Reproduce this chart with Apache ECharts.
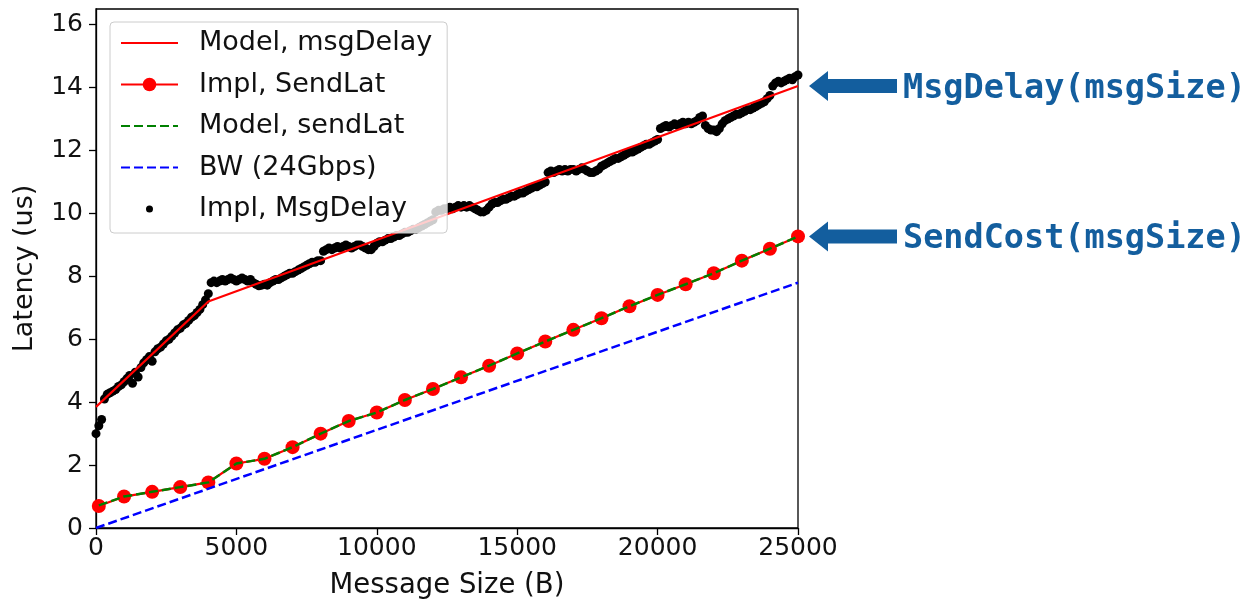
<!DOCTYPE html>
<html>
<head>
<meta charset="utf-8">
<title>Latency vs message size</title>
<script src="https://cdn.jsdelivr.net/npm/echarts@6/dist/echarts.min.js"></script>
<style>
html, body { margin: 0; padding: 0; background: #fff; }
#chart { width: 1251px; height: 605px; }
</style>
</head>
<body>
<div id="chart"></div>
<script>
// model of message delay: piecewise linear
var modelSizes = [0, 4000, 25000];
var modelDelay = [3.85, 7.2, 14.05];

// send latency, measured and modelled, one point per 1000 B
var sendSizes = [100, 1000, 2000, 3000, 4000, 5000, 6000, 7000, 8000, 9000, 10000, 11000, 12000,
  13000, 14000, 15000, 16000, 17000, 18000, 19000, 20000, 21000, 22000, 23000, 24000, 25000];
var implSendLat = [0.7, 1.0, 1.15, 1.3, 1.45, 2.05, 2.2, 2.57, 3.0, 3.4, 3.67, 4.07, 4.42,
  4.79, 5.16, 5.55, 5.93, 6.3, 6.67, 7.05, 7.41, 7.75, 8.1, 8.5, 8.88, 9.27];
var modelSendLat = [0.72, 1.0, 1.15, 1.3, 1.45, 2.05, 2.2, 2.57, 3.0, 3.4, 3.67, 4.07, 4.42,
  4.79, 5.16, 5.55, 5.93, 6.3, 6.67, 7.05, 7.41, 7.75, 8.1, 8.5, 8.88, 9.27];

// bandwidth bound
var bwSizes = [0, 25000];
var bwLat = [0, 7.8];

// measured message delay, one sample every 100 B from 0 to 25000
var delayStep = 100;
var implMsgDelay = [
  3.0, 3.25, 3.45, 4.1, 4.25, 4.3, 4.35, 4.4, 4.5, 4.55,
  4.65, 4.75, 4.85, 4.6, 4.95, 4.8, 5.1, 5.25, 5.35, 5.45,
  5.3, 5.6, 5.7, 5.75, 5.85, 5.95, 6.0, 6.1, 6.2, 6.3,
  6.35, 6.45, 6.5, 6.6, 6.7, 6.75, 6.85, 6.95, 7.1, 7.25,
  7.45, 7.8, 7.85, 7.8, 7.85, 7.9, 7.85, 7.9, 7.95, 7.9,
  7.85, 7.9, 7.95, 7.9, 7.85, 7.9, 7.8, 7.75, 7.7, 7.72,
  7.75, 7.72, 7.8, 7.85, 7.9, 7.9, 7.95, 8.0, 8.05, 8.1,
  8.1, 8.15, 8.2, 8.25, 8.3, 8.35, 8.4, 8.45, 8.45, 8.5,
  8.5, 8.8, 8.85, 8.9, 8.85, 8.9, 8.95, 8.9, 8.95, 9.0,
  8.95, 8.9, 8.95, 9.0, 9.0, 8.95, 8.9, 8.85, 8.85, 8.95,
  9.05, 9.1, 9.1, 9.15, 9.2, 9.2, 9.25, 9.3, 9.3, 9.35,
  9.4, 9.4, 9.45, 9.5, 9.5, 9.55, 9.6, 9.65, 9.7, 9.75,
  9.8, 10.05, 10.1, 10.1, 10.15, 10.15, 10.2, 10.15, 10.2, 10.25,
  10.2, 10.25, 10.2, 10.25, 10.2, 10.15, 10.1, 10.05, 10.05, 10.1,
  10.2, 10.3, 10.35, 10.35, 10.4, 10.45, 10.45, 10.5, 10.55, 10.55,
  10.6, 10.65, 10.65, 10.7, 10.75, 10.8, 10.85, 10.85, 10.9, 10.95,
  11.0, 11.3, 11.35, 11.3, 11.35, 11.4, 11.35, 11.4, 11.35, 11.4,
  11.4, 11.35, 11.4, 11.45, 11.4, 11.35, 11.3, 11.3, 11.35, 11.4,
  11.5, 11.55, 11.6, 11.65, 11.7, 11.75, 11.75, 11.8, 11.85, 11.9,
  11.95, 11.95, 12.0, 12.05, 12.1, 12.15, 12.2, 12.2, 12.25, 12.3,
  12.35, 12.7, 12.75, 12.8, 12.75, 12.8, 12.85, 12.8, 12.85, 12.9,
  12.85, 12.9, 12.85, 12.9, 12.95, 13.05, 13.1, 12.8, 12.7, 12.65,
  12.65, 12.6, 12.7, 12.85, 12.95, 13.0, 13.05, 13.1, 13.15, 13.15,
  13.2, 13.25, 13.3, 13.3, 13.35, 13.4, 13.45, 13.5, 13.55, 13.65,
  13.75, 14.05, 14.15, 14.2, 14.15, 14.2, 14.25, 14.3, 14.25, 14.35,
  14.4
];

var yTicks = [0, 2, 4, 6, 8, 10, 12, 14, 16];
var noteDelay = 'MsgDelay(msgSize)';
var noteSend = 'SendCost(msgSize)';

var FONT = 'DejaVu Sans';
var NOTE_BLUE = '#135e9e';
var xMax = 25000;

// small dot for the scatter legend entry; the two specks widen the box so the dot stays small
var smallDot = 'path://M0,0L0.01,0M34,34L34.01,34M10,17A7,7,0,1,0,24,17A7,7,0,1,0,10,17Z';

function pairs(xs, ys) {
  return xs.map(function (x, i) { return [x, ys[i]]; });
}

var delayPoints = implMsgDelay.map(function (v, i) { return [i * delayStep, v]; });

var chart = echarts.init(document.getElementById('chart'));

chart.setOption({
  animation: false,
  backgroundColor: '#fff',
  grid: {
    left: 96, right: 453, top: 9, bottom: 73,
    show: true, borderColor: '#000', borderWidth: 1.3, backgroundColor: 'transparent'
  },
  legend: {
    data: [
      { name: 'Model, msgDelay', itemStyle: { opacity: 0 } },
      { name: 'Impl, SendLat' },
      { name: 'Model, sendLat', itemStyle: { opacity: 0 } },
      { name: 'BW (24Gbps)', itemStyle: { opacity: 0 } },
      { name: 'Impl, MsgDelay', icon: smallDot }
    ],
    orient: 'vertical',
    left: 110, top: 22,
    itemWidth: 57, itemHeight: 17, itemGap: 11.5,
    padding: [6, 15, 9, 10],
    backgroundColor: 'rgba(255,255,255,0.8)',
    borderColor: '#cccccc', borderWidth: 1, borderRadius: 4,
    selectedMode: false,
    textStyle: { fontFamily: FONT, fontSize: 27, color: '#111', lineHeight: 30, padding: [0, 0, 0, 16] }
  },
  xAxis: {
    type: 'value',
    min: 0, max: xMax, interval: 5000,
    name: 'Message Size (B)',
    nameLocation: 'middle', nameGap: 44,
    nameTextStyle: { fontFamily: FONT, fontSize: 27.5, color: '#111' },
    axisLine: { show: true, lineStyle: { color: '#000', width: 1.3 } },
    axisTick: { show: true, inside: false, length: 7, lineStyle: { color: '#000', width: 1.3 } },
    axisLabel: {
      fontFamily: FONT, fontSize: 25, color: '#111', margin: 8,
      formatter: function (v) { return String(v); }
    },
    splitLine: { show: false }
  },
  yAxis: {
    type: 'value',
    min: 0, max: 16.5,
    name: 'Latency (us)',
    nameLocation: 'middle', nameGap: 58,
    nameTextStyle: { fontFamily: FONT, fontSize: 27, color: '#111' },
    axisLine: { show: true, lineStyle: { color: '#000', width: 1.3 } },
    axisTick: { show: true, inside: false, length: 7, customValues: yTicks, lineStyle: { color: '#000', width: 1.3 } },
    axisLabel: { fontFamily: FONT, fontSize: 25, color: '#111', margin: 13, customValues: yTicks },
    splitLine: { show: false }
  },
  series: [{
    name: 'Impl, MsgDelay',
    type: 'scatter',
    z: 1,
    symbol: 'circle',
    symbolSize: 9,
    itemStyle: { color: '#000', opacity: 1 },
    data: delayPoints
  }, {
    name: 'Model, msgDelay',
    type: 'line',
    z: 2,
    symbol: 'none',
    lineStyle: { color: '#ff0000', width: 2.2 },
    itemStyle: { color: '#ff0000' },
    data: pairs(modelSizes, modelDelay)
  }, {
    name: 'Impl, SendLat',
    type: 'line',
    z: 2,
    symbol: 'circle',
    symbolSize: 14,
    lineStyle: { color: '#ff0000', width: 2.2 },
    itemStyle: { color: '#ff0000' },
    data: pairs(sendSizes, implSendLat)
  }, {
    name: 'Model, sendLat',
    type: 'line',
    z: 3,
    symbol: 'none',
    lineStyle: { color: '#008000', width: 2.5, type: [9, 4] },
    itemStyle: { color: '#008000' },
    data: pairs(sendSizes, modelSendLat)
  }, {
    name: 'BW (24Gbps)',
    type: 'line',
    z: 3,
    symbol: 'none',
    lineStyle: { color: '#0000ff', width: 2.5, type: [9, 4] },
    itemStyle: { color: '#0000ff' },
    data: pairs(bwSizes, bwLat)
  }]
});

// arrows pointing at the right-hand end of each curve
function arrow(tipX, y) {
  return {
    type: 'polygon',
    shape: { points: [[tipX, y], [tipX + 19, y - 15], [tipX + 19, y - 7], [tipX + 88, y - 7],
      [tipX + 88, y + 7], [tipX + 19, y + 7], [tipX + 19, y + 15]] },
    style: { fill: NOTE_BLUE }
  };
}
function note(x, y, text) {
  return {
    type: 'text',
    x: x, y: y + 3,
    style: { text: text, fill: NOTE_BLUE, font: 'bold 33.5px "DejaVu Sans Mono"', textVerticalAlign: 'middle' }
  };
}

var endDelay = chart.convertToPixel({ gridIndex: 0 }, [xMax, modelDelay[modelDelay.length - 1]]);
var endSend = chart.convertToPixel({ gridIndex: 0 }, [xMax, implSendLat[implSendLat.length - 1]]);
var tipX = endDelay[0] + 11;

chart.setOption({
  graphic: [
    arrow(tipX, endDelay[1]),
    note(tipX + 94, endDelay[1], noteDelay),
    arrow(tipX, endSend[1]),
    note(tipX + 94, endSend[1], noteSend)
  ]
});
</script>
</body>
</html>
